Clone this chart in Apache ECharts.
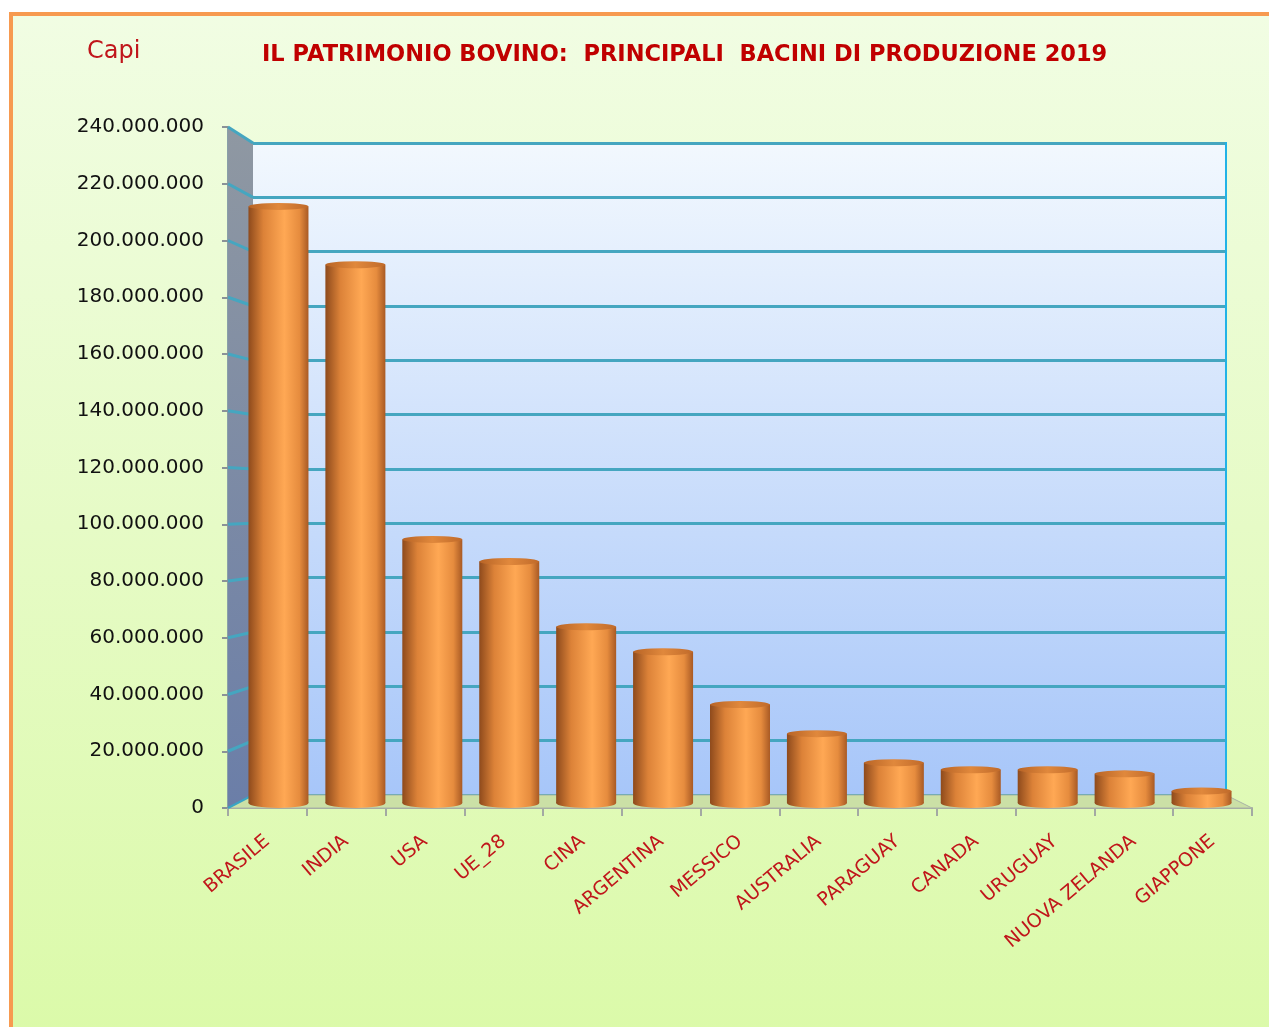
<!DOCTYPE html>
<html>
<head>
<meta charset="utf-8">
<title>Patrimonio bovino 2019</title>
<script src="https://cdn.jsdelivr.net/npm/echarts@6/dist/echarts.min.js"></script>
<style>
  html, body { margin: 0; padding: 0; background: #fff; }
  #frame {
    position: absolute; left: 9px; top: 12px; width: 1270px; height: 1030px;
    border: 4px solid #f79a50; box-sizing: border-box;
    background: linear-gradient(to bottom, #f1fde3 0%, #e6fbc6 50%, #dbfaa9 100%);
  }
  #main { position: absolute; left: 0; top: 0; width: 1269px; height: 1027px; }
</style>
</head>
<body>
<div id="frame"></div>
<div id="main"></div>
<script>
// dati: capi bovini 2019
var paesi = ['BRASILE', 'INDIA', 'USA', 'UE_28', 'CINA', 'ARGENTINA', 'MESSICO',
  'AUSTRALIA', 'PARAGUAY', 'CANADA', 'URUGUAY', 'NUOVA ZELANDA', 'GIAPPONE'];
var capi = [215000000, 194000000, 95000000, 87000000, 63500000, 54500000, 35500000,
  25000000, 14500000, 12000000, 12000000, 10500000, 4300000];
var yMax = 240000000;
var yStep = 20000000;

var rosso = '#c0161b';
var teal = '#45a6c0';

function puntini(v) {
  return String(v).replace(/\B(?=(\d{3})+(?!\d))/g, '.');
}

var cilindro = new echarts.graphic.LinearGradient(0, 0, 1, 0, [
  { offset: 0, color: '#8e4a1c' },
  { offset: 0.25, color: '#dc8238' },
  { offset: 0.6, color: '#ffa854' },
  { offset: 0.85, color: '#e68c3e' },
  { offset: 1, color: '#a95a24' }
]);
var coperchio = new echarts.graphic.LinearGradient(0, 0, 1, 0, [
  { offset: 0, color: '#b86426' },
  { offset: 0.5, color: '#e0883c' },
  { offset: 1, color: '#c06a2a' }
]);

var chart = echarts.init(document.getElementById('main'));

chart.setOption({
  backgroundColor: 'transparent',
  animation: false,
  textStyle: { fontFamily: 'DejaVu Sans' },
  graphic: [
    {
      type: 'text', left: 87, top: 40, z: 10,
      style: { text: 'Capi', fill: rosso, font: '24px "DejaVu Sans"' }
    },
    {
      type: 'text', left: 262, top: 44, z: 10,
      style: {
        text: 'IL PATRIMONIO BOVINO:  PRINCIPALI  BACINI DI PRODUZIONE 2019',
        fill: '#c00000', font: 'bold 22.5px "DejaVu Sans"'
      }
    }
  ],
  grid: [
    // parete di fondo
    {
      left: 253, top: 143, width: 973, height: 652, show: true, borderWidth: 0,
      backgroundColor: new echarts.graphic.LinearGradient(0, 0, 0, 1, [
        { offset: 0, color: '#f2f8fe' },
        { offset: 1, color: '#a7c6f9' }
      ])
    },
    // barre
    { left: 240, top: 137, width: 1000, height: 666 },
    // assi frontali
    { left: 228, top: 127, width: 1024, height: 681 }
  ],
  xAxis: [
    { type: 'category', gridIndex: 0, data: paesi, show: false },
    { type: 'category', gridIndex: 1, data: paesi, show: false },
    {
      type: 'category', gridIndex: 2, data: paesi,
      axisLine: { lineStyle: { color: '#a3a9a3', width: 2 } },
      axisTick: { show: true, length: 8, lineStyle: { color: '#a3a9a3', width: 2 } },
      axisLabel: {
        rotate: 40, margin: 31, color: rosso, fontSize: 19,
        fontFamily: 'DejaVu Sans', interval: 0
      }
    }
  ],
  yAxis: [
    {
      type: 'value', gridIndex: 0, min: 0, max: yMax, interval: yStep,
      axisLine: { show: false }, axisTick: { show: false }, axisLabel: { show: false },
      splitLine: { lineStyle: { color: teal, width: 3 } }
    },
    {
      type: 'value', gridIndex: 1, min: 0, max: yMax, interval: yStep,
      show: false, splitLine: { show: false }
    },
    {
      type: 'value', gridIndex: 2, min: 0, max: yMax, interval: yStep,
      axisLine: { show: true, lineStyle: { color: '#8aa0a8', width: 2 } },
      axisTick: { show: true, length: 6, lineStyle: { color: '#8a9298', width: 2 } },
      splitLine: { show: false },
      axisLabel: {
        margin: 24, color: '#111', fontSize: 20, fontFamily: 'DejaVu Sans',
        formatter: puntini
      }
    }
  ],
  series: [
    {
      type: 'bar', xAxisIndex: 1, yAxisIndex: 1, data: capi,
      barWidth: 60, z: 3,
      itemStyle: { color: cilindro }
    },
    {
      type: 'pictorialBar', xAxisIndex: 1, yAxisIndex: 1, data: capi,
      symbol: 'circle', symbolSize: [60, 10], symbolPosition: 'start',
      symbolOffset: [0, '50%'], z: 2,
      itemStyle: { color: cilindro }
    },
    {
      type: 'pictorialBar', xAxisIndex: 1, yAxisIndex: 1, data: capi,
      symbol: 'circle', symbolSize: [60, 7], symbolPosition: 'end',
      symbolOffset: [0, '-50%'], z: 4,
      itemStyle: { color: coperchio }
    }
  ]
});

// parete laterale, pavimento e bordo destro dalle scale degli assi
var yTicks = [];
for (var v = 0; v <= yMax; v += yStep) yTicks.push(v);

var xf0 = chart.convertToPixel({ gridIndex: 2 }, [0, 0])[0] - 1024 / 26;
var xf1 = xf0 + 1024;
var xb0 = 253, xb1 = 1226;
var yf0 = chart.convertToPixel({ yAxisIndex: 2 }, 0);
var yfT = chart.convertToPixel({ yAxisIndex: 2 }, yMax);
var yb0 = chart.convertToPixel({ yAxisIndex: 0 }, 0);
var ybT = chart.convertToPixel({ yAxisIndex: 0 }, yMax);

var extra = [
  {
    type: 'polygon', z: 1,
    shape: { points: [[xf0, yfT], [xb0, ybT], [xb0, yb0], [xf0, yf0]] },
    style: {
      fill: new echarts.graphic.LinearGradient(0, 0, 0, 1, [
        { offset: 0, color: '#8f98a2' },
        { offset: 1, color: '#6b7ea8' }
      ])
    }
  },
  {
    type: 'polygon', z: 1,
    shape: { points: [[xf0, yf0], [xb0, yb0], [xb1, yb0], [xf1, yf0]] },
    style: { fill: '#cbe0a6', stroke: '#a9b3a6', lineWidth: 1 }
  },
  {
    type: 'line', z: 1,
    shape: { x1: xb1, y1: ybT - 1, x2: xb1, y2: yb0 },
    style: { stroke: '#22b2e6', lineWidth: 2 }
  }
];
yTicks.forEach(function (t) {
  if (t === 0) return;
  extra.push({
    type: 'line', z: 1,
    shape: {
      x1: xf0, y1: chart.convertToPixel({ yAxisIndex: 2 }, t),
      x2: xb0, y2: chart.convertToPixel({ yAxisIndex: 0 }, t)
    },
    style: { stroke: teal, lineWidth: 3 }
  });
});
extra.push({
  type: 'line', z: 1,
  shape: { x1: xf0, y1: yf0, x2: xb0, y2: yb0 },
  style: { stroke: '#3aa4c4', lineWidth: 2 }
});

var g = chart.getOption().graphic[0].elements.slice();
chart.setOption({ graphic: g.concat(extra) });
</script>
</body>
</html>
